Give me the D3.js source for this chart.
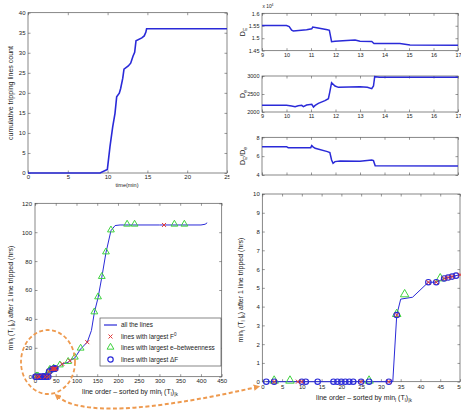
<!DOCTYPE html>
<html>
<head>
<meta charset="utf-8">
<script src="https://cdn.jsdelivr.net/npm/d3@7"></script>
<style>
  body { margin: 0; background: #fff; }
  svg text { font-family: "Liberation Sans", Arial, sans-serif; fill: #222; }
</style>
</head>
<body>
<svg id="fig" width="461" height="413"></svg>
<script>
// ---- panel A: cumulative tripping lines over time
const timeMin   = [0, 9.05, 9.97, 10.3, 10.64, 10.93, 11.14, 11.47, 11.64, 11.9, 12.06, 12.6, 12.9, 13.2, 13.4, 13.57, 14.3, 14.6, 14.8, 14.9, 25];
const tripCount = [0, 0, 0.9, 6.6, 11.5, 14.9, 19, 19.9, 21.1, 23.6, 25.9, 26.7, 27.4, 29.2, 30.1, 33, 33.7, 34.2, 35.1, 36, 36];

// ---- panels B: D_E (x 10^4), D_e, D_E/D_e
const tDE   = [9, 10, 10.11, 10.21, 10.28, 10.82, 11.03, 11.07, 11.23, 11.67, 11.75, 11.84, 11.98, 12.46, 12.8, 13.0, 13.48, 13.57, 14.63, 15.04, 17];
const valDE = [1.551, 1.551, 1.547, 1.532, 1.529, 1.534, 1.538, 1.545, 1.542, 1.534, 1.532, 1.486, 1.488, 1.491, 1.493, 1.488, 1.487, 1.479, 1.479, 1.473, 1.472];
const tDe   = [9, 10, 10.21, 10.35, 10.48, 10.62, 10.69, 10.82, 11.03, 11.1, 11.17, 11.3, 11.57, 11.71, 11.77, 11.84, 11.98, 12.12, 13.0, 13.3, 13.48, 13.55, 13.6, 13.8, 17];
const valDe = [2185, 2185, 2167, 2148, 2176, 2185, 2148, 2194, 2213, 2139, 2185, 2241, 2315, 2370, 2565, 2815, 2722, 2685, 2704, 2685, 2648, 2722, 2981, 2963, 2963];
const tRatio   = [9, 10, 10.07, 10.99, 11.03, 11.07, 11.17, 11.67, 11.77, 11.84, 11.9, 11.98, 12.19, 13.0, 13.48, 13.55, 13.62, 17];
const valRatio = [7.01, 7.01, 6.9, 6.9, 7.12, 7.01, 6.83, 6.48, 6.37, 5.59, 5.24, 5.42, 5.49, 5.45, 5.59, 5.52, 4.99, 4.96];

// ---- panels C and D: min time after one line tripped
const lineOrder = [1, 33, 34, 35, 38, 42, 44, 46, 48, 50, 60, 66, 80, 84, 96, 110, 126, 136, 143, 152, 161, 171, 183, 193, 205, 300, 400, 410, 415];
const minT      = [0, 0, 3.55, 4.4, 4.5, 5.3, 5.3, 5.5, 5.6, 5.7, 7.6, 8.8, 10, 11.1, 13, 19.2, 23.9, 32, 44.3, 54.7, 68.8, 85.8, 101, 104.6, 105, 105, 105, 105.5, 106.5];

const circOrder = [1, 3, 10, 11, 14, 18, 19, 20, 21, 22, 23, 25, 27, 32, 34, 42, 44, 46, 47, 48, 49];
const circT     = [0, 0, 0, 0, 0, 0, 0, 0, 0, 0, 0, 0, 0, 0, 3.55, 5.3, 5.3, 5.5, 5.55, 5.6, 5.65];
const crossOrder = [3, 9, 10, 25, 32, 34, 42, 44, 46, 47, 48, 50, 66, 84, 126, 311];
const crossT     = [0, 0, 0, 0, 0, 3.55, 5.3, 5.3, 5.5, 5.55, 5.6, 5.7, 8.8, 11.1, 23.9, 105];
const triOrder = [3, 7, 27, 34, 36, 45, 60, 80, 96, 110, 143, 152, 161, 171, 183, 222, 240, 336, 360];
const triT     = [0, 0, 0, 3.55, 4.6, 5.45, 7.6, 10, 13, 19.2, 44.3, 54.7, 68.8, 85.8, 101, 105, 105, 105, 105];

const legendNames = ["all the lines", "lines with largest F", "lines with largest e\u2013betweenness", "lines with largest \u0394F"];

const BLUE = "#2a2ad8", RED = "#e23a3a", GREEN = "#3fd23f", ORANGE = "#ee9a4f";
const FONT = "Liberation Sans, Arial, sans-serif";
const svg = d3.select("#fig");

// box with inward ticks on four sides, matlab style
function frame(x, y, o) {
  const g = svg.append("g");
  const [xa, xb] = x.range(), [ya, yb] = y.range();
  const tl = 2.5;
  g.append("g").attr("transform", `translate(0,${ya})`)
    .call(d3.axisBottom(x).tickValues(o.xt).tickSize(-tl).tickPadding(o.xpad || 2)
      .tickFormat(o.xlab === false ? "" : (o.xf || d3.format("d"))));
  g.append("g").attr("transform", `translate(0,${yb})`)
    .call(d3.axisTop(x).tickValues(o.xt).tickSize(-tl).tickFormat(""));
  g.append("g").attr("transform", `translate(${xa},0)`)
    .call(d3.axisLeft(y).tickValues(o.yt).tickSize(-tl).tickPadding(o.ypad || 2.5).tickFormat(o.yf || d3.format("d")));
  g.append("g").attr("transform", `translate(${xb},0)`)
    .call(d3.axisRight(y).tickValues(o.yt).tickSize(-tl).tickFormat(""));
  g.selectAll(".domain").remove();
  g.selectAll("g").attr("font-family", FONT);
  g.selectAll(".tick line").attr("stroke", "#555").attr("stroke-width", 0.6);
  g.selectAll(".tick text").attr("font-size", o.fs || 6).attr("fill", "#333");
  g.append("rect").attr("x", xa).attr("y", yb).attr("width", xb - xa).attr("height", ya - yb)
    .attr("fill", "none").attr("stroke", "#555").attr("stroke-width", 0.7);
  return g;
}

// text with sub/superscripts: parts = [[str, "sub"|"sup"|null], ...]
function label(x, y, parts, fs, rot) {
  const t = svg.append("text").attr("font-size", fs).attr("text-anchor", "middle")
    .attr("transform", `translate(${x},${y})` + (rot ? " rotate(-90)" : ""));
  let cur = 0;
  parts.forEach(([s, k]) => {
    const want = k === "sub" ? fs * 0.35 : k === "sup" ? -fs * 0.45 : 0;
    t.append("tspan").attr("dy", want - cur).attr("font-size", k ? fs * 0.7 : fs).text(s);
    cur = want;
  });
  return t;
}

// ---------- A
const xA = d3.scaleLinear().domain([0, 25]).range([28, 227]);
const yA = d3.scaleLinear().domain([0, 40]).range([173, 12.7]);
frame(xA, yA, { xt: d3.range(0, 26, 5), yt: d3.range(0, 41, 5), fs: 6 });
svg.append("path").datum(d3.zip(timeMin, tripCount))
  .attr("d", d3.line().x(d => xA(d[0])).y(d => yA(d[1])))
  .attr("fill", "none").attr("stroke", BLUE).attr("stroke-width", 1.6);
// right part of the last tick label is hidden in the source
svg.append("rect").attr("x", 229.5).attr("y", 174).attr("width", 8).attr("height", 10).attr("fill", "#fff");
label(13, 93, [["cumulative tripping lines count"]], 7, true);
label(127, 187, [["time(min)"]], 5.5, false);

// ---------- B panels
const xB = d3.scaleLinear().domain([9, 17]).range([262, 458]);
const yB1 = d3.scaleLinear().domain([1.45, 1.6]).range([50.7, 13.3]);
const yB2 = d3.scaleLinear().domain([2000, 3000]).range([112, 76]);
const yB3 = d3.scaleLinear().domain([4, 8]).range([175, 137.3]);
const bTicks = d3.range(9, 18, 1);
frame(xB, yB1, { xt: bTicks, yt: [1.45, 1.5, 1.55, 1.6], yf: d3.format(""), fs: 5.5, xpad: 2 });
frame(xB, yB2, { xt: bTicks, yt: [2000, 2500, 3000], fs: 5.5, xpad: 2 });
frame(xB, yB3, { xt: bTicks, yt: [4, 6, 8], xlab: false, fs: 5.5 });
[[tDE, valDE, yB1], [tDe, valDe, yB2], [tRatio, valRatio, yB3]].forEach(([t, v, ys]) => {
  svg.append("path").datum(d3.zip(t, v))
    .attr("d", d3.line().x(d => xB(d[0])).y(d => ys(d[1])))
    .attr("fill", "none").attr("stroke", BLUE).attr("stroke-width", 1.5);
});
label(268, 8, [["x 10"], ["4", "sup"]], 4.8, false);
label(245, 32, [["D"], ["E", "sub"]], 7, true);
label(245, 94, [["D"], ["e", "sub"]], 7, true);
label(245, 156, [["D"], ["E", "sub"], ["/D"], ["e", "sub"]], 7, true);

// ---------- C and D shared drawing
function drawMarkers(g, x, y, keep, big) {
  const k = big ? 1.25 : 1;
  g.selectAll(null).data(d3.zip(triOrder, triT).filter(keep)).join("path")
    .attr("transform", d => `translate(${x(d[0])},${y(d[1]) - 0.8 * k})`)
    .attr("d", d3.symbol(d3.symbolTriangle, 20 * k * k)())
    .attr("fill", "none").attr("stroke", GREEN).attr("stroke-width", 1);
  g.selectAll(null).data(d3.zip(circOrder, circT).filter(keep)).join("circle")
    .attr("cx", d => x(d[0])).attr("cy", d => y(d[1])).attr("r", 2.7)
    .attr("fill", "none").attr("stroke", BLUE).attr("stroke-width", 1.2);
  g.selectAll(null).data(d3.zip(crossOrder, crossT).filter(keep)).join("path")
    .attr("transform", d => `translate(${x(d[0])},${y(d[1])})`)
    .attr("d", "M-2,-2L2,2M-2,2L2,-2")
    .attr("fill", "none").attr("stroke", RED).attr("stroke-width", 1);
}

const yLabelParts = [["min"], ["l", "sub"], [" (T"], ["l", "sub"], [" |"], ["k", "sub"], [") after 1 line tripped (hrs)"]];
const xLabelParts = [["line order \u2013 sorted by min"], ["l", "sub"], [" (T"], ["l", "sub"], [")"], ["|k", "sub"]];

// ---------- C
const xC = d3.scaleLinear().domain([0, 450]).range([35, 221.7]);
const yC = d3.scaleLinear().domain([0, 120]).range([376.7, 203.3]);
frame(xC, yC, { xt: d3.range(0, 451, 50), yt: d3.range(0, 121, 20), fs: 6, xpad: 2.5, ypad: 3 });
const gC = svg.append("g");
gC.append("path").datum(d3.zip(lineOrder, minT))
  .attr("d", d3.line().x(d => xC(d[0])).y(d => yC(d[1])))
  .attr("fill", "none").attr("stroke", BLUE).attr("stroke-width", 1);
drawMarkers(gC, xC, yC, () => true, false);
label(13, 298, yLabelParts, 7, true);
label(130, 394, xLabelParts, 7, false);

// legend
const lg = svg.append("g").attr("transform", "translate(100,318)");
lg.append("rect").attr("width", 121).attr("height", 48).attr("fill", "#fff").attr("stroke", "#555").attr("stroke-width", 0.7);
legendNames.forEach((name, i) => {
  const cy = 7 + i * 11.5;
  const row = lg.append("g").attr("transform", `translate(0,${cy})`);
  if (i === 0) row.append("line").attr("x1", 4).attr("x2", 17).attr("stroke", BLUE).attr("stroke-width", 1.2);
  if (i === 1) row.append("path").attr("d", "M8.5,-2L12.5,2M8.5,2L12.5,-2").attr("stroke", RED).attr("stroke-width", 1);
  if (i === 2) row.append("path").attr("transform", "translate(10.5,-0.8)").attr("d", d3.symbol(d3.symbolTriangle, 20)())
    .attr("fill", "none").attr("stroke", GREEN);
  if (i === 3) row.append("circle").attr("cx", 10.5).attr("r", 2.7).attr("fill", "none").attr("stroke", BLUE).attr("stroke-width", 1.2);
  const t = row.append("text").attr("x", 21).attr("y", 2.2).attr("font-size", 6.4).text(name);
  if (i === 1) t.append("tspan").attr("dy", -2.6).attr("font-size", 4.5).text("0");
});

// ---------- D (zoom on the first 50 lines)
const xD = d3.scaleLinear().domain([0, 50]).range([262.3, 460]);
const yD = d3.scaleLinear().domain([0, 10]).range([381.7, 194]);
frame(xD, yD, { xt: d3.range(0, 51, 5), yt: d3.range(0, 11, 1), fs: 6, xpad: 3.5, ypad: 2.5 });
const gD = svg.append("g");
gD.append("path").datum(d3.zip(lineOrder, minT).filter(d => d[0] <= 50))
  .attr("d", d3.line().x(d => xD(d[0])).y(d => yD(d[1])))
  .attr("fill", "none").attr("stroke", BLUE).attr("stroke-width", 1);
drawMarkers(gD, xD, yD, d => d[0] <= 50, true);
label(243, 290, yLabelParts, 7, true);
label(364, 400, xLabelParts, 7, false);

// ---------- orange zoom callout
const defs = svg.append("defs");
defs.append("marker").attr("id", "ah").attr("viewBox", "0 0 10 10").attr("refX", 5).attr("refY", 5)
  .attr("markerWidth", 3.2).attr("markerHeight", 3.2).attr("orient", "auto-start-reverse")
  .append("path").attr("d", "M0,0L10,5L0,10z").attr("fill", ORANGE);
svg.append("ellipse").attr("cx", 48).attr("cy", 362).attr("rx", 27).attr("ry", 32)
  .attr("fill", "none").attr("stroke", ORANGE).attr("stroke-width", 1.8).attr("stroke-dasharray", "4,2.5");
svg.append("path").attr("d", "M57,396 Q90,425 257,387")
  .attr("fill", "none").attr("stroke", ORANGE).attr("stroke-width", 2).attr("stroke-dasharray", "4,2.5")
  .attr("marker-start", "url(#ah)").attr("marker-end", "url(#ah)");
</script>
</body>
</html>
